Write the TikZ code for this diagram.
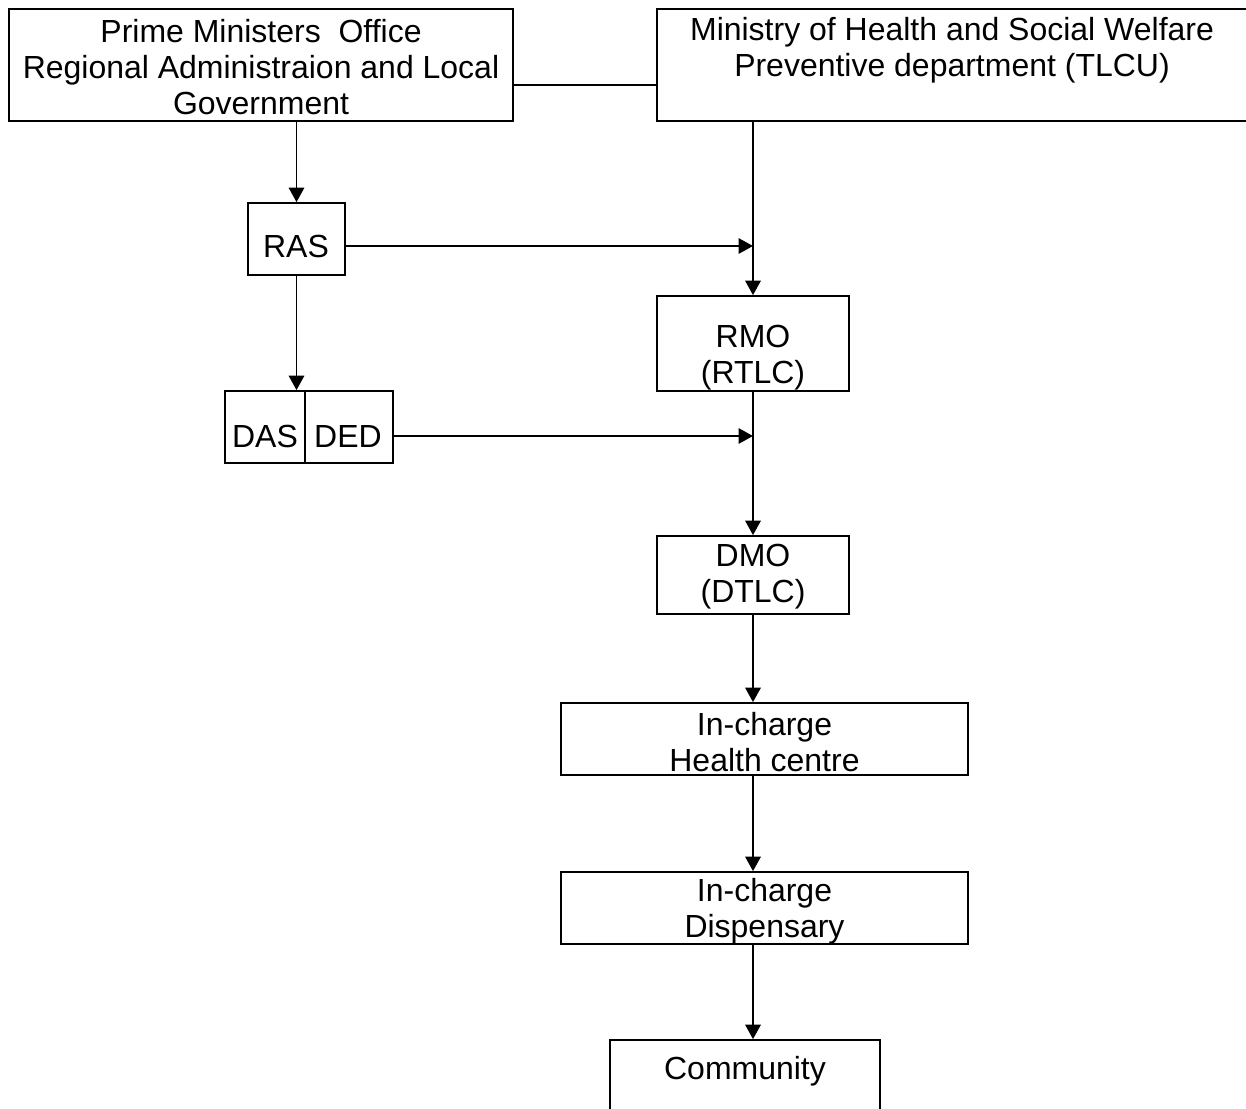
\documentclass[tikz,border=0pt]{standalone}
\usepackage{fontspec}
\setmainfont{Liberation Sans}
\usetikzlibrary{arrows.meta, positioning}

\tikzset{
	box/.style={draw, line width=1pt, inner sep=0pt, align=center},
	txt/.style={inner sep=0pt, align=center},
	conn/.style={line width=1pt, -{Triangle[length=2.9mm, width=3.1mm]}},
	plain/.style={line width=1pt},
}

\begin{document}
\begin{tikzpicture}[x=0.2mm, y=-0.2mm, font=\fontsize{18.2}{20.5}\selectfont]
	\useasboundingbox (0,0) rectangle (1246,1109);
	\clip (0,0) rectangle (1246,1109);
	
	% ministries
	\node[box, minimum width=100.8mm, minimum height=22.4mm] (pmo) at (261,65) {};
	\node[txt] (pmo-t) at (261,67) {Prime Ministers\ \ Office\\Regional Administraion and Local\\Government};
	\node[box, minimum width=122.6mm, minimum height=22.4mm] (moh) at (963.5,65) {};
	\node[txt] (moh-t) at (952,50) {Ministry of Health and Social Welfare\\Preventive department (TLCU)};
	\coordinate (lvl) at (0,85);
	
	% local government side
	\node[box, minimum width=19.4mm, minimum height=14.4mm] (ras) at (296.5,239) {};
	\node[txt] (ras-t) at (296,246) {RAS};
	\node[box, minimum width=16mm, minimum height=14.4mm] (das) at (265,427) {};
	\node[box, minimum width=17.6mm, minimum height=14.4mm] (ded) at (349,427) {};
	\node[txt] (das-t) at (265,436) {DAS};
	\node[txt] (ded-t) at (348,436) {DED};
	
	% health side
	\node[box, minimum width=38.4mm, minimum height=19mm] (rmo) at (753,343.5) {};
	\node[txt] (rmo-t) at (753,358) {RMO\\(RTLC)};
	\node[box, minimum width=38.4mm, minimum height=15.6mm] (dmo) at (753,575) {};
	\node[txt] (dmo-t) at (753,577) {DMO\\(DTLC)};
	\node[box, minimum width=81.4mm, minimum height=14.4mm] (hc) at (764.5,739) {};
	\node[txt] (hc-t) at (764.5,742) {In-charge\\Health centre};
	\node[box, minimum width=81.4mm, minimum height=14.4mm] (disp) at (764.5,908) {};
	\node[txt] (disp-t) at (764.5,911) {In-charge\\Dispensary};
	\node[box, minimum width=54mm, minimum height=24mm] (comm) at (745,1100) {};
	\node[txt] (comm-t) at (745,1071) {Community};
	
	\draw[plain] (pmo.east |- lvl) -- (moh.west |- lvl);
	\draw[conn] (pmo.south -| ras.north) -- (ras.north);
	\draw[conn] (ras.south) -- (ras.south |- das.north);
	\draw[conn] (moh.south -| rmo.north) -- (rmo.north);
	\draw[conn] (ras.east |- ras-t) -- (rmo.north |- ras-t);
	\draw[conn] (ded.east |- ded-t) -- (rmo.south |- ded-t);
	\draw[conn] (rmo.south) -- (dmo.north);
	\draw[conn] (dmo.south) -- (dmo.south |- hc.north);
	\draw[conn] (hc.south -| dmo.south) -- (disp.north -| dmo.south);
	\draw[conn] (disp.south -| dmo.south) -- (comm.north -| dmo.south);
\end{tikzpicture}
\end{document}
